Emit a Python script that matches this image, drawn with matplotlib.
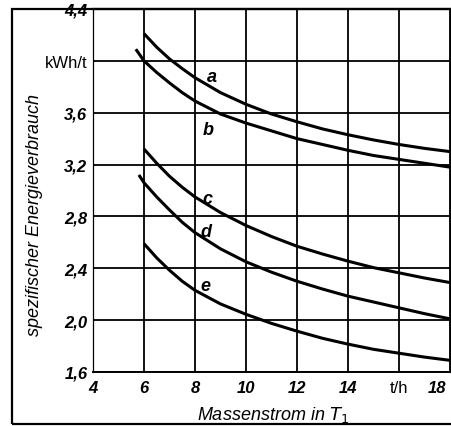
import matplotlib.pyplot as plt
import matplotlib.transforms as mtrans
from matplotlib.patches import Rectangle

x_a = [6, 6.5, 7, 7.5, 8, 9, 10, 11, 12, 13, 14, 15, 16, 17, 18]
y_a = [4.21, 4.105, 4.015, 3.94, 3.87, 3.755, 3.665, 3.59, 3.53, 3.475, 3.43, 3.39, 3.355, 3.325, 3.30]
x_b = [5.68, 6, 6.5, 7, 7.5, 8, 9, 10, 11, 12, 13, 14, 15, 16, 17, 18]
y_b = [4.09, 4.00, 3.91, 3.83, 3.755, 3.69, 3.59, 3.52, 3.46, 3.40, 3.355, 3.31, 3.27, 3.24, 3.21, 3.18]
x_c = [6, 6.5, 7, 7.5, 8, 9, 10, 11, 12, 13, 14, 15, 16, 17, 18]
y_c = [3.32, 3.21, 3.11, 3.025, 2.95, 2.83, 2.73, 2.645, 2.57, 2.51, 2.455, 2.405, 2.365, 2.325, 2.29]
x_d = [5.8, 6, 6.5, 7, 7.5, 8, 9, 10, 11, 12, 13, 14, 15, 16, 17, 18]
y_d = [3.12, 3.06, 2.95, 2.85, 2.755, 2.675, 2.55, 2.45, 2.37, 2.30, 2.24, 2.185, 2.14, 2.095, 2.05, 2.01]
x_e = [6, 6.5, 7, 7.5, 8, 9, 10, 11, 12, 13, 14, 15, 16, 17, 18]
y_e = [2.59, 2.48, 2.385, 2.30, 2.23, 2.125, 2.045, 1.975, 1.915, 1.86, 1.815, 1.775, 1.745, 1.715, 1.69]

curve_names = ['a', 'b', 'c', 'd', 'e']
label_pos = [(8.65, 3.88), (8.5, 3.47), (8.5, 2.94), (8.45, 2.68), (8.4, 2.27)]

x_ticks = [4, 6, 8, 10, 12, 14, 16, 18]
x_ticklabels = ['4', '6', '8', '10', '12', '14', 't/h', '18']
y_ticks = [1.6, 2.0, 2.4, 2.8, 3.2, 3.6, 4.0, 4.4]
y_ticklabels = ['1,6', '2,0', '2,4', '2,8', '3,2', '3,6', 'kWh/t', '4,4']

plt.rcParams['font.family'] = ['Liberation Sans', 'DejaVu Sans']

fig = plt.figure(figsize=(4.51, 4.27), dpi=100)
ax = fig.add_axes([93/451, 1-373/427, (450-93)/451, (373-10)/427])

xs = [x_a, x_b, x_c, x_d, x_e]
ys = [y_a, y_b, y_c, y_d, y_e]
for xx, yy in zip(xs, ys):
    ax.plot(xx, yy, color='black', lw=2.2, solid_capstyle='butt', solid_joinstyle='round')

for name, (lx, ly) in zip(curve_names, label_pos):
    ax.text(lx, ly, name, fontsize=13, style='italic', fontweight='bold',
            ha='center', va='center')

ax.set_xlim(4, 18)
ax.set_ylim(1.6, 4.4)
ax.set_xticks(x_ticks)
ax.set_yticks(y_ticks)
ax.set_xticklabels(x_ticklabels)
ax.set_yticklabels(y_ticklabels)
for t in ax.get_xticklabels() + ax.get_yticklabels():
    t.set_fontsize(12)
    if '/' not in t.get_text():
        t.set_style('italic')
        t.set_fontweight('bold')
ax.tick_params(axis='y', length=0, pad=4)
ax.tick_params(axis='x', length=0, pad=6)
ax.grid(True, color='black', lw=1.3)

# last x label sits left of the frame edge
last = ax.get_xticklabels()[-1]
last.set_horizontalalignment('right')
last.set_transform(last.get_transform() + mtrans.ScaledTranslation(-3/72, 0, fig.dpi_scale_trans))

for s in ['left', 'right']:
    ax.spines[s].set_linewidth(0.9)
ax.spines['bottom'].set_linewidth(1.4)
ax.spines['top'].set_linewidth(1.6)

fig.text(273/451, 1-415/427, 'Massenstrom in $T_1$', fontsize=13, style='italic',
         ha='center', va='center')
fig.text(35/451, 1-215/427, 'spezifischer Energieverbrauch', fontsize=13, style='italic',
         rotation=90, ha='center', va='center')

fig.patches.append(Rectangle((12/451, 1-425/427), 1.0, (425-10)/427,
                             transform=fig.transFigure, fill=False, lw=1.6,
                             edgecolor='black'))

fig.savefig('out.png', dpi=100)
